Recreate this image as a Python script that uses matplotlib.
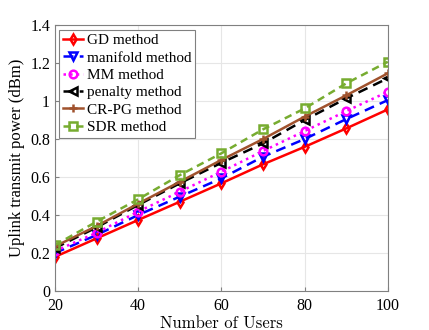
import matplotlib
matplotlib.use("Agg")
import matplotlib.pyplot as plt

users = [20, 30, 40, 50, 60, 70, 80, 90, 100]
gd = [0.180, 0.277, 0.374, 0.470, 0.567, 0.667, 0.759, 0.856, 0.956]
manifold = [0.200, 0.295, 0.400, 0.497, 0.593, 0.707, 0.800, 0.905, 1.005]
mm = [0.210, 0.307, 0.418, 0.523, 0.628, 0.737, 0.842, 0.947, 1.049]
penalty = [0.226, 0.335, 0.453, 0.567, 0.675, 0.777, 0.900, 1.014, 1.120]
crpg = [0.235, 0.342, 0.460, 0.575, 0.690, 0.800, 0.918, 1.030, 1.146]
sdr = [0.242, 0.365, 0.483, 0.610, 0.725, 0.851, 0.961, 1.093, 1.207]

labels = ["GD method", "manifold method", "MM method", "penalty method", "CR-PG method", "SDR method"]
xticks = [20, 40, 60, 80, 100]
yticks = [0, 0.2, 0.4, 0.6, 0.8, 1.0, 1.2, 1.4]
yticklabels = ["0", "0.2", "0.4", "0.6", "0.8", "1", "1.2", "1.4"]

fig = plt.figure(figsize=(4.29, 3.30), dpi=100)
ax = fig.add_axes([0.128, 0.118, 0.776, 0.806])

serif = "Liberation Serif"
styles = [
    dict(color="#ff0000", ls="-", marker="d"),
    dict(color="#0000ff", ls=(0, (4, 2.5)), marker="v"),
    dict(color="#ff00ff", ls=":", marker="o"),
    dict(color="#000000", ls=(0, (4, 2.5)), marker="<"),
    dict(color="#a0522d", ls="-", marker="+"),
    dict(color="#77ac30", ls=(0, (3, 2)), marker="s"),
]
series = [gd, manifold, mm, penalty, crpg, sdr]
for vals, lab, st in zip(series, labels, styles):
    ax.plot(users, vals, color=st["color"], linestyle=st["ls"], linewidth=1.8,
            marker=st["marker"], markersize=5.5, markerfacecolor="none",
            markeredgewidth=1.8, label=lab)

ax.set_xlim(20, 100)
ax.set_ylim(0, 1.4)
ax.set_xticks(xticks)
ax.set_yticks(yticks)
ax.set_yticklabels(yticklabels)
ax.grid(True, color="#e6e6e6", linewidth=0.8)
ax.set_axisbelow(True)
for s in ax.spines.values():
    s.set_color("#808080")
    s.set_linewidth(0.8)
ax.tick_params(direction="in", length=3, color="#808080", labelsize=11.5)
ax.tick_params(axis="x", pad=5)
for t in ax.get_xticklabels() + ax.get_yticklabels():
    t.set_fontfamily(serif)

ax.set_xlabel("Number of Users", fontfamily="cmr10", fontsize=12, labelpad=1)
ax.set_ylabel("Uplink transmit power (dBm)", fontfamily=serif, fontsize=12, labelpad=4)

leg = ax.legend(loc="upper left", prop={"family": serif, "size": 11},
                handlelength=1.3, handletextpad=0.25, labelspacing=0.24,
                borderpad=0.25, borderaxespad=0.3, fancybox=False, framealpha=1,
                edgecolor="#808080")
leg.get_frame().set_linewidth(0.8)

fig.savefig("out.png", dpi=100)
